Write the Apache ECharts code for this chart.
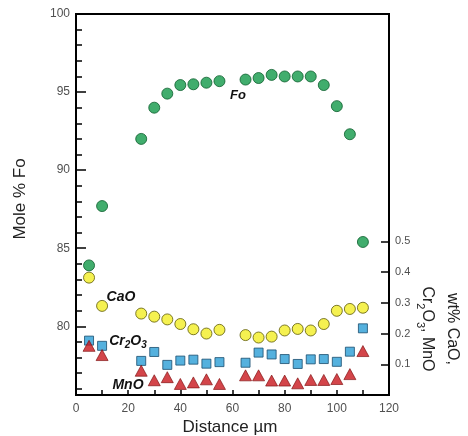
<!DOCTYPE html>
<html>
<head>
<meta charset="utf-8">
<script src="https://cdn.jsdelivr.net/npm/echarts@6/dist/echarts.min.js"></script>
<style>
  html, body { margin: 0; padding: 0; background: #fff; }
  #chart { width: 468px; height: 436px; }
</style>
</head>
<body>
<div id="chart"></div>
<script>
// distance along the traverse (µm)
const distance = [5, 10, 25, 30, 35, 40, 45, 50, 55, 65, 70, 75, 80, 85, 90, 95, 100, 105, 110];
// mole % Fo (left axis)
const fo = [83.9, 87.7, 92.0, 94.0, 94.9, 95.45, 95.5, 95.6, 95.7, 95.8, 95.9, 96.1, 96.0, 96.0, 96.0, 95.45, 94.1, 92.3, 85.4];
// wt% oxides (right axis)
const cao = [0.382, 0.290, 0.265, 0.255, 0.246, 0.231, 0.214, 0.200, 0.212, 0.195, 0.187, 0.190, 0.210, 0.215, 0.210, 0.231, 0.274, 0.280, 0.284];
const cr2o3 = [0.177, 0.160, 0.111, 0.140, 0.098, 0.112, 0.115, 0.102, 0.107, 0.105, 0.138, 0.132, 0.117, 0.101, 0.116, 0.117, 0.108, 0.141, 0.217];
const mno = [0.160, 0.130, 0.079, 0.048, 0.058, 0.036, 0.041, 0.051, 0.036, 0.064, 0.064, 0.047, 0.047, 0.038, 0.049, 0.049, 0.052, 0.068, 0.143];

const xTicks = [0, 20, 40, 60, 80, 100, 120];
const foTicks = [80, 85, 90, 95, 100];
const foMinorTicks = [76, 77, 78, 79, 81, 82, 83, 84, 86, 87, 88, 89, 91, 92, 93, 94, 96, 97, 98, 99];
const oxideTicks = [0.1, 0.2, 0.3, 0.4, 0.5];

const pairs = (ys) => distance.map((d, i) => [d, ys[i]]);

const font = "Liberation Sans, Arial, sans-serif";
const labelColor = "#505050";

const chart = echarts.init(document.getElementById("chart"));

const option = {
  animation: false,
  grid: {
    left: 76,
    right: 79,
    top: 14,
    bottom: 41,
    show: true,
    borderColor: "#000",
    borderWidth: 2,
  },
  xAxis: {
    type: "value",
    min: 0,
    max: 120,
    interval: 10,
    axisLine: { show: true, lineStyle: { color: "#000", width: 2 } },
    axisTick: { show: true, inside: true, length: 5, lineStyle: { color: "#000", width: 1.5 } },
    axisLabel: {
      color: labelColor,
      fontSize: 12,
      fontFamily: font,
      margin: 8,
      formatter: (v) => (xTicks.includes(v) ? String(v) : ""),
    },
    splitLine: { show: false },
  },
  yAxis: [
    {
      type: "value",
      min: 75.6,
      max: 100,
      axisLine: { show: true, lineStyle: { color: "#000", width: 2 } },
      axisTick: {
        show: true,
        inside: true,
        length: 10,
        customValues: foTicks,
        lineStyle: { color: "#000", width: 1.5 },
      },
      axisLabel: {
        color: labelColor,
        fontSize: 12,
        fontFamily: font,
        margin: 6,
        customValues: foTicks,
      },
      splitLine: { show: false },
    },
    {
      type: "value",
      min: 75.6,
      max: 100,
      position: "left",
      axisLine: { show: false },
      axisTick: {
        show: true,
        inside: true,
        length: 6,
        customValues: foMinorTicks,
        lineStyle: { color: "#000", width: 1.5 },
      },
      axisLabel: { show: false },
      splitLine: { show: false },
    },
    {
      type: "value",
      min: 0,
      max: 1.24,
      position: "right",
      axisLine: { show: true, lineStyle: { color: "#000", width: 2 } },
      axisTick: {
        show: true,
        inside: true,
        length: 8,
        customValues: oxideTicks,
        lineStyle: { color: "#000", width: 1.5 },
      },
      axisLabel: {
        color: labelColor,
        fontSize: 11,
        fontFamily: font,
        margin: 6,
        customValues: oxideTicks,
        formatter: (v) => v.toFixed(1),
      },
      splitLine: { show: false },
    },
  ],
  graphic: [
    {
      type: "text",
      x: 20,
      y: 199,
      rotation: Math.PI / 2,
      style: {
        text: "Mole % Fo",
        font: "17px " + font,
        fill: "#222",
        align: "center",
        verticalAlign: "middle",
      },
    },
    {
      type: "text",
      x: 440,
      y: 329,
      rotation: -Math.PI / 2,
      style: {
        text: "wt% CaO,\nCr{sub|2}O{sub|3}, MnO",
        font: "16px " + font,
        fill: "#222",
        align: "center",
        verticalAlign: "middle",
        lineHeight: 25,
        rich: {
          sub: { fontSize: 11, fontFamily: font, verticalAlign: "bottom", padding: [8, 0, 0, 0] },
        },
      },
    },
    {
      type: "text",
      x: 230,
      y: 427,
      style: {
        text: "Distance µm",
        font: "17px " + font,
        fill: "#222",
        align: "center",
        verticalAlign: "middle",
      },
    },
    {
      type: "text",
      x: 238,
      y: 95,
      style: { text: "Fo", font: "italic bold 13px " + font, fill: "#111", align: "center", verticalAlign: "middle" },
    },
    {
      type: "text",
      x: 121,
      y: 297,
      style: { text: "CaO", font: "italic bold 14px " + font, fill: "#111", align: "center", verticalAlign: "middle" },
    },
    {
      type: "text",
      x: 128,
      y: 341,
      style: {
        text: "Cr{sub|2}O{sub|3}",
        font: "italic bold 14px " + font,
        fill: "#111",
        align: "center",
        verticalAlign: "middle",
        rich: {
          sub: { fontSize: 10, fontStyle: "italic", fontWeight: "bold", fontFamily: font, padding: [8, 0, 0, 0] },
        },
      },
    },
    {
      type: "text",
      x: 128,
      y: 385,
      style: { text: "MnO", font: "italic bold 14px " + font, fill: "#111", align: "center", verticalAlign: "middle" },
    },
  ],
  series: [
    {
      name: "Fo",
      type: "scatter",
      yAxisIndex: 0,
      data: pairs(fo),
      symbol: "circle",
      symbolSize: 11,
      itemStyle: { color: "#129848", borderColor: "#0b5e2c", borderWidth: 1 },
      z: 5,
    },
    {
      name: "CaO",
      type: "scatter",
      yAxisIndex: 2,
      data: pairs(cao),
      symbol: "circle",
      symbolSize: 11,
      itemStyle: { color: "#f2ee24", borderColor: "#5e5a08", borderWidth: 1 },
    },
    {
      name: "Cr2O3",
      type: "scatter",
      yAxisIndex: 2,
      data: pairs(cr2o3),
      symbol: "rect",
      symbolSize: 9,
      itemStyle: { color: "#2a9ed6", borderColor: "#1a4d6e", borderWidth: 1 },
    },
    {
      name: "MnO",
      type: "scatter",
      yAxisIndex: 2,
      data: pairs(mno),
      symbol: "triangle",
      symbolSize: [12, 11],
      itemStyle: { color: "#c8161d", borderColor: "#7a0a0a", borderWidth: 0.8 },
    },
  ],
};

chart.setOption(option);
</script>
</body>
</html>
